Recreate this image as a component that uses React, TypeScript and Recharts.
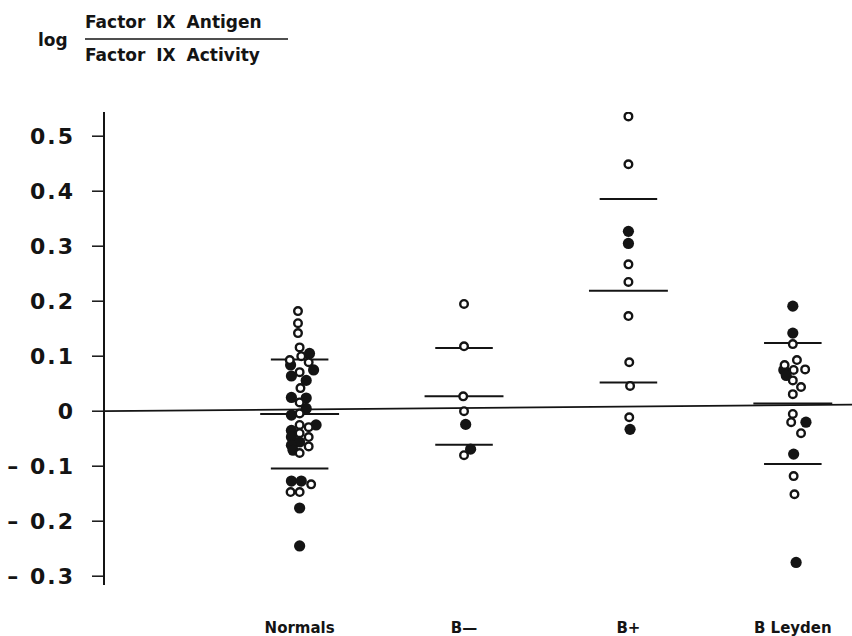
import { ScatterChart, Scatter, XAxis, YAxis, ReferenceLine } from 'recharts'

// groups along the x axis (group i sits at x = i + 1)
const groups = ['Normals', 'B—', 'B+', 'B Leyden']
const means = [-0.005, 0.027, 0.219, 0.014]
const sds = [0.099, 0.088, 0.167, 0.11]
const yTicks = [-0.3, -0.2, -0.1, 0, 0.1, 0.2, 0.3, 0.4, 0.5]

// [jitter, value] per point
const normalsOpen = [
  [-0.01, 0.182], [-0.01, 0.16], [-0.01, 0.142], [0, 0.116], [0.01, 0.1],
  [-0.06, 0.093], [0.055, 0.089], [0, 0.071], [0.005, 0.042], [0, 0.016],
  [0, -0.004], [0, -0.025], [0.055, -0.029], [0, -0.04], [0.055, -0.047],
  [0.055, -0.064], [0, -0.076], [0.07, -0.133], [-0.055, -0.147], [0, -0.147],
]
const normalsFilled = [
  [0.06, 0.105], [0.085, 0.075], [-0.055, 0.084], [-0.05, 0.064], [0.04, 0.056],
  [-0.05, 0.025], [0.04, 0.024], [0.04, 0.005], [-0.05, -0.007], [0.1, -0.025],
  [-0.05, -0.035], [-0.05, -0.047], [0, -0.056], [-0.05, -0.062], [-0.04, -0.071],
  [-0.05, -0.127], [0.01, -0.127], [0, -0.176], [0, -0.245],
]
const bMinusOpen = [[0, 0.195], [0, 0.118], [-0.005, 0.027], [0, 0], [0, -0.08]]
const bMinusFilled = [[0.01, -0.024], [0.04, -0.069]]
const bPlusOpen = [
  [0, 0.536], [0, 0.449], [0, 0.267], [0, 0.235], [0, 0.173],
  [0.005, 0.089], [0.01, 0.046], [0.005, -0.011],
]
const bPlusFilled = [[0, 0.327], [0, 0.305], [0.01, -0.033]]
const leydenOpen = [
  [0, 0.122], [0.025, 0.093], [-0.05, 0.084], [0.075, 0.076], [0.005, 0.075],
  [0, 0.056], [0.05, 0.044], [0, 0.031], [0, -0.005], [-0.01, -0.02],
  [0.05, -0.04], [0.005, -0.118], [0.01, -0.151],
]
const leydenFilled = [
  [0, 0.191], [0, 0.142], [-0.055, 0.075], [-0.04, 0.065], [0.08, -0.02],
  [0.005, -0.078], [0.02, -0.275],
]

const toPoints = (list: number[][], g: number) => list.map(([dx, v]) => ({ x: g + 1 + dx, y: v }))

const openPts = [
  ...toPoints(normalsOpen, 0), ...toPoints(bMinusOpen, 1),
  ...toPoints(bPlusOpen, 2), ...toPoints(leydenOpen, 3),
]
const filledPts = [
  ...toPoints(normalsFilled, 0), ...toPoints(bMinusFilled, 1),
  ...toPoints(bPlusFilled, 2), ...toPoints(leydenFilled, 3),
]

const INK = '#141414'
const font = '"DejaVu Sans", sans-serif'

const OpenDot = (props: any) => (
  <circle cx={props.cx} cy={props.cy} r={3.8} fill="#fff" stroke={INK} strokeWidth={2.4} />
)
const FilledDot = (props: any) => <circle cx={props.cx} cy={props.cy} r={5.6} fill={INK} />

const YTick = (props: any) => {
  const { x, y, payload } = props
  const v = payload.value
  const label = v < 0 ? `– ${Math.abs(v).toFixed(1)}` : v === 0 ? '0' : v.toFixed(1)
  return (
    <text x={x} y={y} dy={8} textAnchor="end" fontFamily={font} fontSize={22}
      fontWeight={600} letterSpacing={2} fill={INK}>
      {label}
    </text>
  )
}

const XTick = (props: any) => {
  const { x, y, payload } = props
  return (
    <text x={x} y={y} dy={40} textAnchor="middle" fontFamily={font} fontSize={15}
      fontWeight={700} fill={INK}>
      {groups[payload.value - 1]}
    </text>
  )
}

export default function App() {
  return (
    <div style={{ position: 'absolute', left: 0, top: 0, width: 852, height: 636, background: '#fff' }}>
      <svg width={852} height={80} style={{ position: 'absolute', left: 0, top: 0 }}>
        <text x={38} y={46} fontFamily={font} fontSize={17} fontWeight={700} fill={INK}>log</text>
        <text x={85} y={28} fontFamily={font} fontSize={17} fontWeight={700} fill={INK} wordSpacing={5}>
          Factor IX Antigen
        </text>
        <line x1={85} x2={288} y1={39} y2={39} stroke={INK} strokeWidth={1.5} />
        <text x={85} y={61} fontFamily={font} fontSize={17} fontWeight={700} fill={INK} wordSpacing={5}>
          Factor IX Activity
        </text>
      </svg>
      <ScatterChart width={852} height={636} margin={{ top: 112, right: 0, bottom: 0, left: 0 }}>
        <XAxis type="number" dataKey="x" domain={[-0.19, 4.36]} ticks={[1, 2, 3, 4]}
          axisLine={false} tickLine={false} height={51} tick={<XTick />} />
        <YAxis type="number" dataKey="y" domain={[-0.316, 0.544]} ticks={yTicks} width={104}
          axisLine={{ stroke: INK, strokeWidth: 2 }} tickLine={{ stroke: INK, strokeWidth: 1.5 }}
          tickSize={12} tickMargin={17} tick={<YTick />} allowDataOverflow />
        <ReferenceLine segment={[{ x: -0.19, y: 0 }, { x: 4.36, y: 0.012 }]}
          stroke={INK} strokeWidth={1.8} ifOverflow="visible" />
        {means.map((m, i) => (
          <ReferenceLine key={`m${i}`} segment={[{ x: i + 0.76, y: m }, { x: i + 1.24, y: m }]}
            stroke={INK} strokeWidth={2} ifOverflow="visible" />
        ))}
        {means.map((m, i) => (
          <ReferenceLine key={`u${i}`} segment={[{ x: i + 0.825, y: m + sds[i] }, { x: i + 1.175, y: m + sds[i] }]}
            stroke={INK} strokeWidth={2} ifOverflow="visible" />
        ))}
        {means.map((m, i) => (
          <ReferenceLine key={`l${i}`} segment={[{ x: i + 0.825, y: m - sds[i] }, { x: i + 1.175, y: m - sds[i] }]}
            stroke={INK} strokeWidth={2} ifOverflow="visible" />
        ))}
        <Scatter data={filledPts} shape={<FilledDot />} isAnimationActive={false} />
        <Scatter data={openPts} shape={<OpenDot />} isAnimationActive={false} />
      </ScatterChart>
    </div>
  )
}
